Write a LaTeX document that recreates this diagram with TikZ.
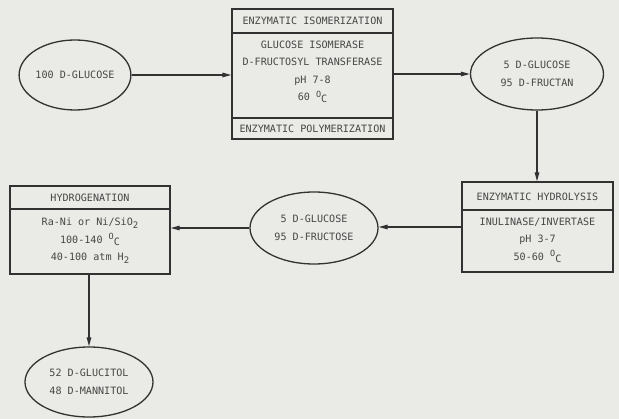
\documentclass[tikz,border=0pt]{standalone}
\usepackage{fontspec}
\setmonofont{DejaVu Sans Mono}
\usetikzlibrary{shapes.geometric,arrows.meta}
\definecolor{bg}{RGB}{234,234,230}
\definecolor{ink}{RGB}{50,50,50}
\definecolor{tink}{RGB}{70,70,70}
\newcommand{\degC}{\raisebox{3.5pt}{\fontsize{8.5}{8}\selectfont O}\raisebox{-2pt}{C}}
\newcommand{\subtwo}{\raisebox{-3pt}{\fontsize{9}{8}\selectfont 2}}
\tikzset{
  every node/.style={font=\ttfamily\fontsize{10.1}{17.5}\selectfont, text=tink},
  oval/.style={draw=ink, line width=1.3pt, ellipse, inner sep=0pt, align=center},
  procbox/.style={draw=ink, line width=1.3pt, rectangle, inner sep=0pt},
  txt/.style={align=center, inner sep=0pt},
  link/.style={draw=ink, line width=1.3pt, -{Triangle[length=9pt,width=4.5pt]}},
  divider/.style={draw=ink, line width=1.3pt}
}
\begin{document}
\begin{tikzpicture}[x=1pt,y=-1pt]
\fill[bg] (0,0) rectangle (619,419);
\useasboundingbox (0,0) rectangle (619,419);
% ellipses
\node[oval, minimum width=106pt, minimum height=70pt] (e1) at (75,75) {100 D-GLUCOSE};
\node[oval, minimum width=133pt, minimum height=72pt] (e2) at (537,74) {5 D-GLUCOSE\\95 D-FRUCTAN};
\node[oval, minimum width=128pt, minimum height=72pt] (e3) at (314,228) {5 D-GLUCOSE\\95 D-FRUCTOSE};
\node[oval, minimum width=128pt, minimum height=70pt] (e4) at (89,382) {52 D-GLUCITOL\\48 D-MANNITOL};
% box 1
\node[procbox, minimum width=161pt, minimum height=130pt] (b1) at (312.5,74) {};
\coordinate (b1d1) at (232,33);
\coordinate (b1d2) at (232,118);
\draw[divider] (b1d1) -- (b1d1 -| b1.east);
\draw[divider] (b1d2) -- (b1d2 -| b1.east);
\node[txt] (b1t) at (312.5,21) {ENZYMATIC ISOMERIZATION};
\node[txt] (b1c) at (312.5,72) {GLUCOSE ISOMERASE\\D-FRUCTOSYL TRANSFERASE\\pH 7-8\\60 \degC};
\node[txt] (b1b) at (312.5,129) {ENZYMATIC POLYMERIZATION};
% box 2
\node[procbox, minimum width=151pt, minimum height=90pt] (b2) at (537.5,227) {};
\coordinate (b2d) at (462,210);
\draw[divider] (b2d) -- (b2d -| b2.east);
\node[txt] (b2t) at (537.5,197) {ENZYMATIC HYDROLYSIS};
\node[txt] (b2c) at (537.5,240) {INULINASE/INVERTASE\\pH 3-7\\50-60 \degC};
% box 3
\node[procbox, minimum width=160pt, minimum height=88pt] (b3) at (90,230) {};
\coordinate (b3d) at (10,209);
\draw[divider] (b3d) -- (b3d -| b3.east);
\node[txt] (b3t) at (90,198) {HYDROGENATION};
\node[txt] (b3c) at (90,241) {Ra-Ni or Ni/SiO\subtwo\\100-140 \degC\\40-100 atm H\subtwo};
% connectors
\draw[link] (e1.east) -- (e1.east -| b1.west);
\draw[link] (b1.east) -- (b1.east -| e2.west);
\draw[link] (e2.south) -- (e2.south |- b2.north);
\draw[link] (b2.west) -- (b2.west -| e3.east);
\draw[link] (e3.west) -- (e3.west -| b3.east);
\draw[link] (b3.south -| e4.north) -- (e4.north);
\end{tikzpicture}
\end{document}
